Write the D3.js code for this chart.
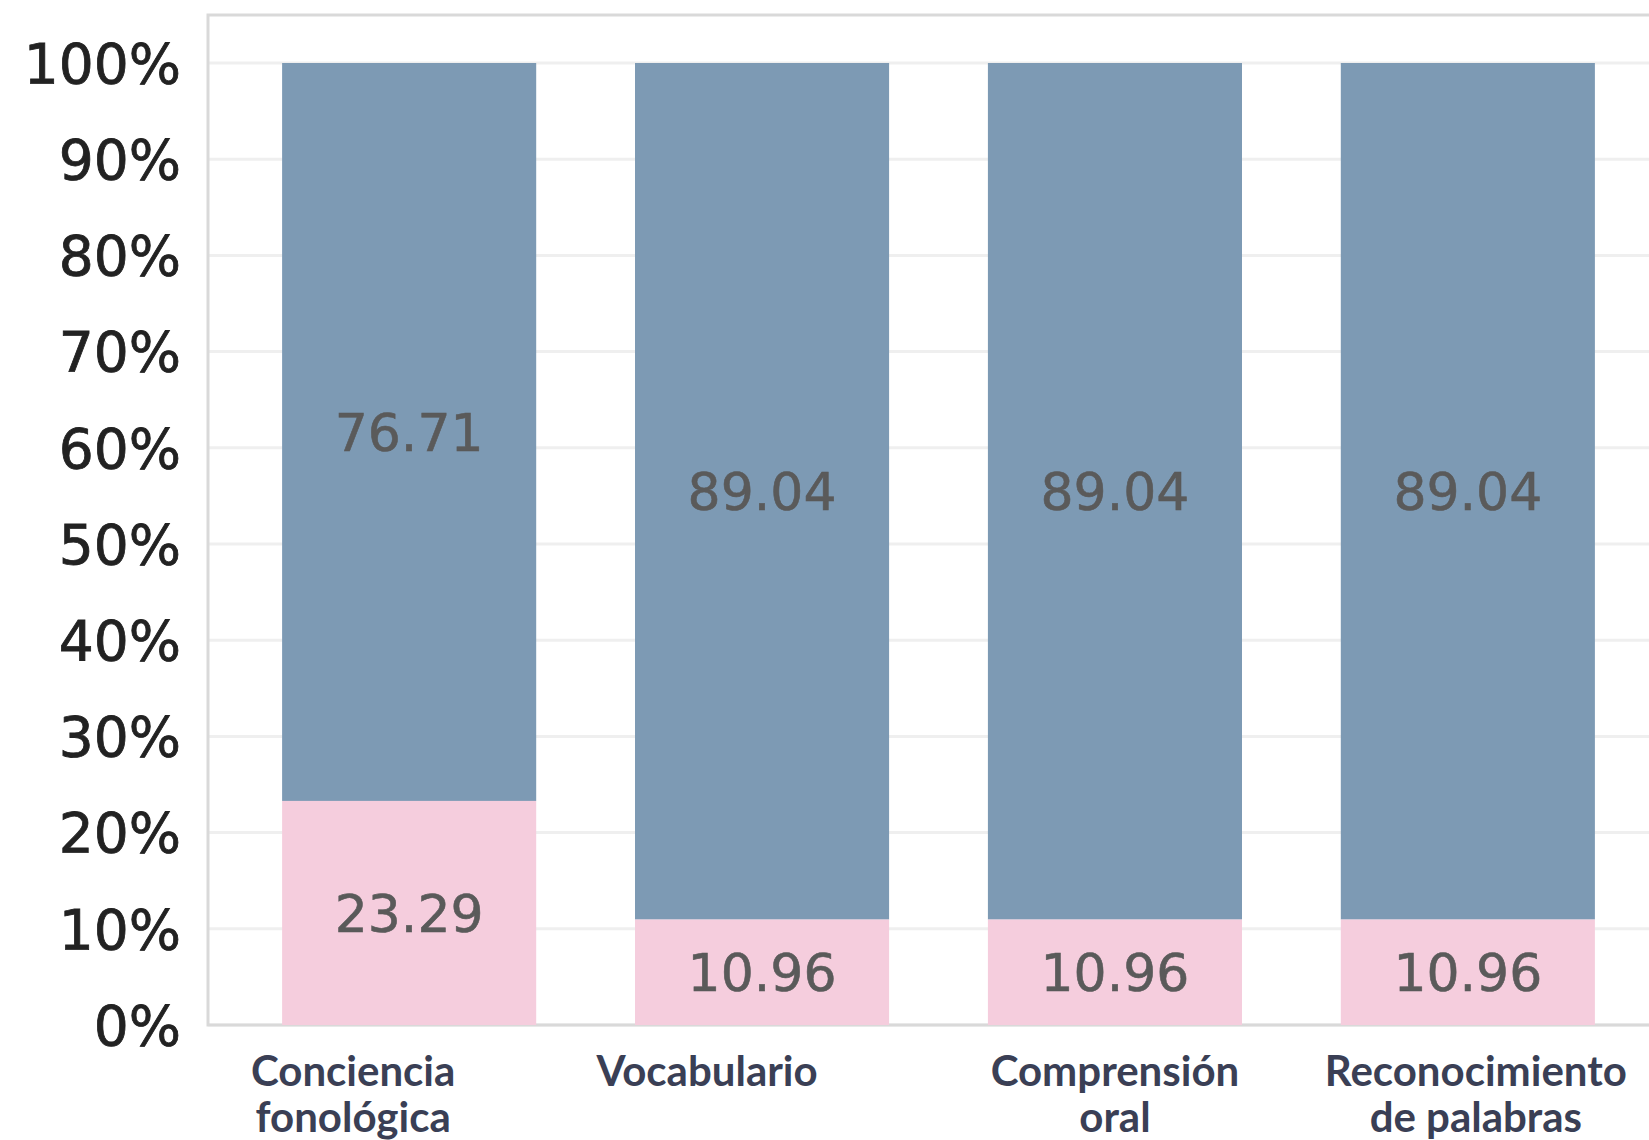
<!DOCTYPE html>
<html>
<head>
<meta charset="utf-8">
<script src="https://cdn.jsdelivr.net/npm/d3@7"></script>
<style>
  body { margin: 0; background: #fff; }
  svg { display: block; }
</style>
</head>
<body>
<div class="graph"></div>
<script>
// data
const categories = [["Conciencia", "fonológica"], ["Vocabulario"], ["Comprensión", "oral"], ["Reconocimiento", "de palabras"]]
const lowValues = [23.29, 10.96, 10.96, 10.96]
const highValues = [76.71, 89.04, 89.04, 89.04]
const yTicks = [0, 10, 20, 30, 40, 50, 60, 70, 80, 90, 100]

// layout
const W = 1649, H = 1140
const frame = {left: 208, top: 15, right: 1669, bottom: 1025}
const plotTop = 63
const labelNudge = [-56, -55, 0, 8]

let svg = d3.select('.graph')
    .append('svg')
    .attr('width', W)
    .attr('height', H)

let x = d3.scaleBand()
    .domain(d3.range(categories.length))
    .range([frame.left, frame.right])
    .paddingInner(0.28)
    .paddingOuter(0.21)

let y = d3.scaleLinear()
    .domain([0, 100])
    .range([frame.bottom, plotTop])

// grid lines
svg.selectAll('line.grid')
    .data(yTicks)
    .enter()
    .append('line')
    .attr('class', 'grid')
    .attr('x1', frame.left)
    .attr('x2', frame.right)
    .attr('y1', d => y(d))
    .attr('y2', d => y(d))
    .attr('stroke', '#efefef')
    .attr('stroke-width', 3)

// frame
svg.append('rect')
    .attr('x', frame.left)
    .attr('y', frame.top)
    .attr('width', frame.right - frame.left)
    .attr('height', frame.bottom - frame.top)
    .attr('fill', 'none')
    .attr('stroke', '#d9d9d9')
    .attr('stroke-width', 3)

// stacked bars
let stack = categories.map((c, i) => ({i: i, low: lowValues[i], high: highValues[i]}))

let groups = svg.selectAll('g.bar')
    .data(stack)
    .enter()
    .append('g')
    .attr('class', 'bar')

groups.append('rect')
    .attr('x', d => x(d.i))
    .attr('width', x.bandwidth())
    .attr('y', d => y(d.low + d.high))
    .attr('height', d => y(d.low) - y(d.low + d.high))
    .attr('fill', '#7d9ab4')

groups.append('rect')
    .attr('x', d => x(d.i))
    .attr('width', x.bandwidth())
    .attr('y', d => y(d.low))
    .attr('height', d => y(0) - y(d.low))
    .attr('fill', '#f5cddd')

function valueLabel(sel, val, mid) {
  sel.append('text')
    .attr('x', d => x(d.i) + x.bandwidth() / 2)
    .attr('y', d => y(mid(d)))
    .attr('dy', '0.36em')
    .attr('text-anchor', 'middle')
    .attr('font-family', 'DejaVu Sans')
    .attr('font-size', 52)
    .attr('fill', '#5a5a5a')
    .attr('stroke', '#5a5a5a')
    .attr('stroke-width', 0.6)
    .text(d => val(d).toFixed(2))
}
valueLabel(groups, d => d.high, d => d.low + d.high / 2)
valueLabel(groups, d => d.low, d => d.low / 2)

// y axis labels
svg.selectAll('text.ytick')
    .data(yTicks)
    .enter()
    .append('text')
    .attr('class', 'ytick')
    .attr('x', 181)
    .attr('y', d => y(d))
    .attr('dy', '0.36em')
    .attr('text-anchor', 'end')
    .attr('font-family', 'DejaVu Sans')
    .attr('font-size', 55)
    .attr('fill', '#222')
    .attr('stroke', '#222')
    .attr('stroke-width', 0.8)
    .text(d => d + '%')

// x axis labels
let xl = svg.selectAll('text.xlab')
    .data(categories)
    .enter()
    .append('text')
    .attr('class', 'xlab')
    .attr('text-anchor', 'middle')
    .attr('font-family', 'Lato')
    .attr('font-weight', 700)
    .attr('font-size', 42)
    .attr('fill', '#3a3f55')

xl.selectAll('tspan')
    .data((d, i) => d.map(t => ({t: t, i: i})))
    .enter()
    .append('tspan')
    .attr('x', d => x(d.i) + x.bandwidth() / 2 + labelNudge[d.i])
    .attr('y', (d, j) => 1086 + j * 46)
    .text(d => d.t)
</script>
</body>
</html>
